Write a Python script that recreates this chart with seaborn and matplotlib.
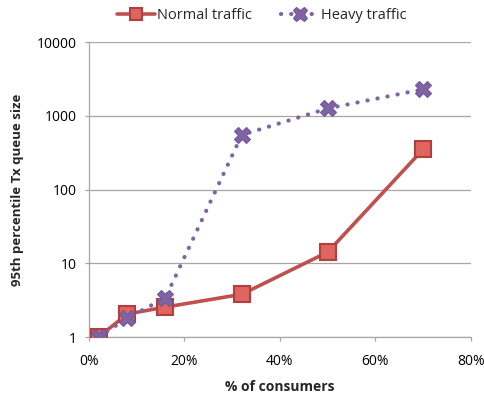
import matplotlib
matplotlib.use("Agg")
import matplotlib.pyplot as plt
from matplotlib.ticker import FixedLocator, NullLocator, FuncFormatter
import seaborn as sns
import pandas as pd

# Share of consumers (%) and 95th percentile Tx queue size per scenario
consumers_pct = [2, 8, 16, 32, 50, 70]
normal_traffic = [1, 2.05, 2.55, 3.8, 14.2, 352]
heavy_traffic = [1, 1.8, 3.4, 550, 1260, 2290]
series_names = ["Normal traffic", "Heavy traffic"]
y_ticks = [1, 10, 100, 1000, 10000]
x_ticks = [0, 20, 40, 60, 80]

sns.set_style("white")
plt.rcParams["font.family"] = ["Open Sans", "DejaVu Sans"]

df = pd.DataFrame({
    "consumers": consumers_pct * 2,
    "queue": normal_traffic + heavy_traffic,
    "series": [series_names[0]] * len(consumers_pct) + [series_names[1]] * len(consumers_pct),
})

fig = plt.figure(figsize=(4.85, 3.97), dpi=100)
ax = fig.add_axes([0.1835, 0.151, 0.7875, 0.743])

red = "#C0504D"
purple = "#8064A2"

sns.lineplot(data=df[df.series == series_names[0]], x="consumers", y="queue",
             ax=ax, color=red, linewidth=2.6, marker="s", markersize=11,
             markerfacecolor="#E06460", markeredgecolor="#B0403D", markeredgewidth=1.5,
             label=series_names[0], zorder=3)
sns.lineplot(data=df[df.series == series_names[1]], x="consumers", y="queue",
             ax=ax, color=purple, linewidth=3.0, linestyle=(0, (0.05, 2.4)),
             marker="X", markersize=12,
             markerfacecolor=purple, markeredgecolor="#7058A0", markeredgewidth=0.8,
             label=series_names[1], zorder=4)

for line in ax.get_lines():
    line.set_dash_capstyle("round")
    line.set_solid_capstyle("round")

ax.set_yscale("log")
ax.set_ylim(1, 10000)
ax.set_xlim(0, 80)
ax.yaxis.set_major_locator(FixedLocator(y_ticks))
ax.yaxis.set_minor_locator(NullLocator())
ax.yaxis.set_major_formatter(FuncFormatter(lambda v, p: f"{int(round(v))}"))
ax.xaxis.set_major_locator(FixedLocator(x_ticks))
ax.xaxis.set_major_formatter(FuncFormatter(lambda v, p: f"{int(round(v))}%"))

ax.grid(axis="y", color="#A6A6A6", linewidth=0.9)
ax.grid(axis="x", visible=False)
ax.set_axisbelow(True)
for side in ["top", "right"]:
    ax.spines[side].set_visible(False)
for side in ["left", "bottom"]:
    ax.spines[side].set_color("#A6A6A6")
    ax.spines[side].set_linewidth(0.9)
ax.tick_params(axis="both", which="major", direction="out", length=3, width=0.9,
               color="#A6A6A6", labelsize=10, labelcolor="#000000", pad=6)
ax.tick_params(axis="x", bottom=True, pad=9)
ax.tick_params(axis="y", left=True)

ax.set_xlabel("% of consumers", fontsize=10, fontweight="bold", labelpad=8)
ax.set_ylabel("95th percentile Tx queue size", fontsize=9.5, fontweight="bold", labelpad=9)

handles, labels = ax.get_legend_handles_labels()
if ax.legend_:
    ax.legend_.remove()
fig.legend(handles, labels, loc="upper center", bbox_to_anchor=(0.54, 1.012), ncol=2,
           frameon=False, fontsize=10.5, handlelength=2.6, columnspacing=2.0,
           handletextpad=0.15, markerscale=0.85)

fig.savefig("out.png", dpi=100)
